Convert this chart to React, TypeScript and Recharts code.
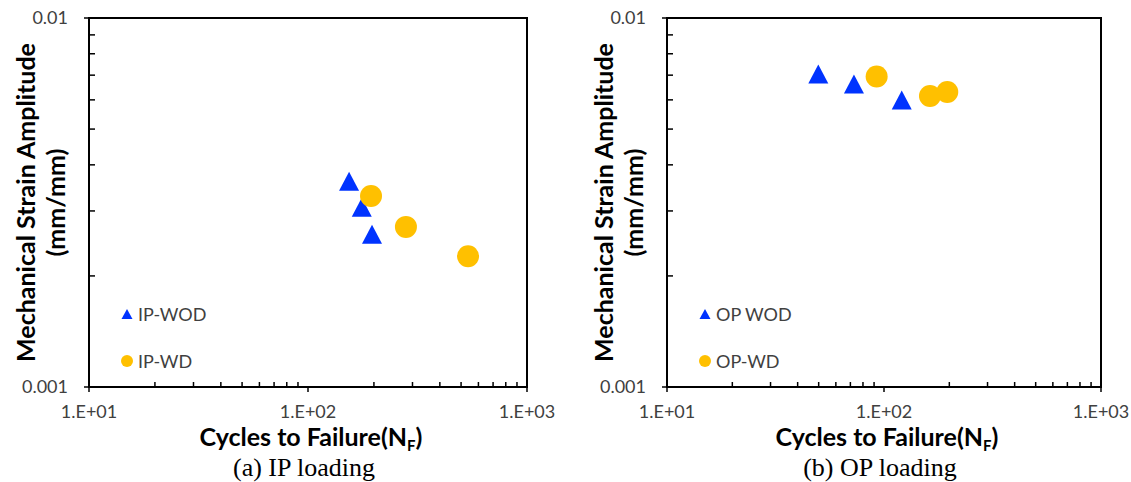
import React from "react";
import { ScatterChart, Scatter, XAxis, YAxis, ReferenceArea, Legend } from "recharts";

// log axis ticks (majors get a label, the rest are minor marks)
const xTicks = [10, 20, 30, 40, 50, 60, 70, 80, 90, 100, 200, 300, 400, 500, 600, 700, 800, 900, 1000];
const yTicks = [0.001, 0.002, 0.003, 0.004, 0.005, 0.006, 0.007, 0.008, 0.009, 0.01];
const xMajorLabels: Record<number, string> = { 10: "1.E+01", 100: "1.E+02", 1000: "1.E+03" };
const yMajorLabels: Record<number, string> = { 0.001: "0.001", 0.01: "0.01" };

// (a) IP loading
const ipWodCycles = [154, 176, 196];
const ipWodStrain = [0.00361, 0.00307, 0.002595];
const ipWdCycles = [194, 280, 538];
const ipWdStrain = [0.003294, 0.002716, 0.002262];

// (b) OP loading
const opWodCycles = [49.8, 72.7, 120.7];
const opWodStrain = [0.007056, 0.006621, 0.005999];
const opWdCycles = [92.5, 162.9, 195.7];
const opWdStrain = [0.006945, 0.006145, 0.006298];

const BLUE = "#0033ff";
const GOLD = "#ffc000";
const TEXT = "#404040";
const SANS = "Lato, 'Open Sans', sans-serif";

const pts = (xs: number[], ys: number[]) => xs.map((x, i) => ({ x, y: ys[i] }));

const Triangle = (props: any) => {
  const { cx, cy } = props;
  return <polygon points={`${cx},${cy - 9.5} ${cx - 10},${cy + 9.5} ${cx + 10},${cy + 9.5}`} fill={BLUE} />;
};

const Dot = (props: any) => {
  const { cx, cy } = props;
  return <circle cx={cx} cy={cy} r={11} fill={GOLD} />;
};

const XTick = (props: any) => {
  const { x, y, payload } = props;
  const label = xMajorLabels[payload.value];
  return (
    <g>
      <line x1={x} x2={x} y1={y} y2={label ? y + 5 : y - 5} stroke="#000" strokeWidth={1.5} />
      {label && (
        <text x={x} y={y + 31} textAnchor="middle" fontFamily={SANS} fontSize={18} fill={TEXT}>
          {label}
        </text>
      )}
    </g>
  );
};

const YTick = (props: any) => {
  const { x, y, payload } = props;
  const key = Object.keys(yMajorLabels).find((k) => Math.abs(Number(k) - payload.value) < 1e-9);
  const label = key ? yMajorLabels[Number(key)] : null;
  return (
    <g>
      <line x1={x} x2={label ? x - 5 : x + 6} y1={y} y2={y} stroke="#000" strokeWidth={1.5} />
      {label && (
        <text x={x - 21} y={y + 6} textAnchor="end" fontFamily={SANS} fontSize={18} fill={TEXT}>
          {label}
        </text>
      )}
    </g>
  );
};

const LegendBox = ({ payload }: any) => {
  const items = [...(payload || [])].sort((a: any, b: any) => (a.type === "triangle" ? -1 : 0) - (b.type === "triangle" ? -1 : 0));
  return (
    <div>
      {items.map((p: any) => (
        <div key={p.value} style={{ display: "flex", alignItems: "center", height: 47 }}>
          <svg width={12} height={12}>
            {p.type === "triangle" ? (
              <polygon points="6,1 0.5,11 11.5,11" fill={BLUE} />
            ) : (
              <circle cx={6} cy={6} r={6} fill={GOLD} />
            )}
          </svg>
          <span style={{ marginLeft: 5, fontFamily: SANS, fontSize: 18, color: TEXT }}>{p.value}</span>
        </div>
      ))}
    </div>
  );
};

interface PanelProps {
  left: number;
  width: number;
  caption: string;
  wodName: string;
  wdName: string;
  wod: { x: number; y: number }[];
  wd: { x: number; y: number }[];
}

const AXIS_W = 89;
const TOP = 18;
const BOTTOM_H = 95;
const H = 482;

function Panel({ left, width, caption, wodName, wdName, wod, wd }: PanelProps) {
  const right = width === 560 ? 33 : 30;
  const plotL = AXIS_W;
  const plotR = width - right;
  const plotB = H - BOTTOM_H;
  const cx = (plotL + plotR) / 2;
  const cy = (TOP + plotB) / 2;
  return (
    <div style={{ position: "absolute", left, top: 0 }}>
      <ScatterChart width={width} height={H} margin={{ top: TOP, right, bottom: 0, left: 0 }}>
        <XAxis
          type="number"
          dataKey="x"
          scale="log"
          domain={[10, 1000]}
          ticks={xTicks}
          interval={0}
          height={BOTTOM_H}
          axisLine={false}
          tickLine={false}
          tickSize={0}
          tickMargin={0}
          tick={<XTick />}
          label={() => (
            <g>
              <text x={cx + 3} y={plotB + 59} textAnchor="middle" fontFamily={SANS} fontWeight="bold" fontSize={25} fill="#000">
                Cycles to Failure(N
                <tspan dy={5} fontSize={15}>F</tspan>
                <tspan dy={-5}>)</tspan>
              </text>
              <text x={cx - 4} y={H - 6} textAnchor="middle" fontFamily="'Liberation Serif', serif" fontSize={26} fill="#000">
                {caption}
              </text>
            </g>
          )}
        />
        <YAxis
          type="number"
          dataKey="y"
          scale="log"
          domain={[0.001, 0.01]}
          ticks={yTicks}
          interval={0}
          width={AXIS_W}
          axisLine={false}
          tickLine={false}
          tickSize={0}
          tickMargin={0}
          tick={<YTick />}
          label={() => (
            <g fontFamily={SANS} fontWeight="bold" fontSize={25} fill="#000">
              <text x={plotL - 64} y={cy} textAnchor="middle" dominantBaseline="central" transform={`rotate(-90, ${plotL - 64}, ${cy})`}>
                Mechanical Strain Amplitude
              </text>
              <text x={plotL - 34} y={cy} textAnchor="middle" dominantBaseline="central" transform={`rotate(-90, ${plotL - 34}, ${cy})`}>
                (mm/mm)
              </text>
            </g>
          )}
        />
        <ReferenceArea x1={10} x2={1000} y1={0.001} y2={0.01} fill="none" stroke="#000" strokeWidth={2} />
        <Legend
          layout="vertical"
          align="center"
          verticalAlign="middle"
          wrapperStyle={{ left: plotL + 32, top: 290, width: "auto" }}
          content={<LegendBox />}
        />
        <Scatter name={wodName} data={wod} legendType="triangle" fill={BLUE} shape={<Triangle />} isAnimationActive={false} />
        <Scatter name={wdName} data={wd} legendType="circle" fill={GOLD} shape={<Dot />} isAnimationActive={false} />
      </ScatterChart>
    </div>
  );
}

export default function App() {
  return (
    <div style={{ position: "absolute", left: 0, top: 0, width: 1131, height: H, background: "#fff", overflow: "hidden" }}>
      <Panel
        left={0}
        width={560}
        caption="(a) IP loading"
        wodName="IP-WOD"
        wdName="IP-WD"
        wod={pts(ipWodCycles, ipWodStrain)}
        wd={pts(ipWdCycles, ipWdStrain)}
      />
      <Panel
        left={578}
        width={553}
        caption="(b) OP loading"
        wodName="OP WOD"
        wdName="OP-WD"
        wod={pts(opWodCycles, opWodStrain)}
        wd={pts(opWdCycles, opWdStrain)}
      />
    </div>
  );
}
